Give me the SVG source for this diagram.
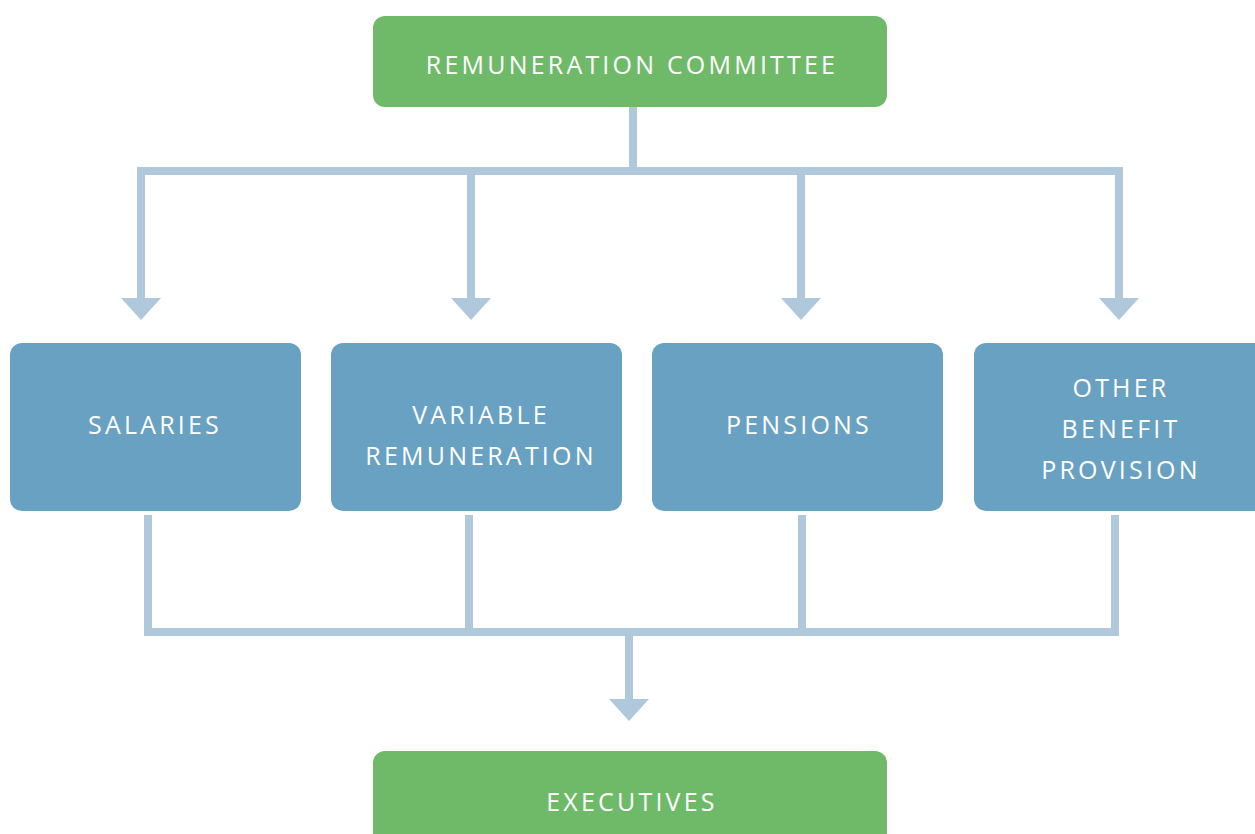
<svg xmlns="http://www.w3.org/2000/svg" width="1255" height="834" viewBox="0 0 1255 834">
<style>
.g{fill:#6fba69}
.b{fill:#68a1c1}
.t{font-family:"Open Sans","Liberation Sans",sans-serif;font-size:25px;font-weight:500;fill:#ffffff;text-anchor:middle;letter-spacing:3.2px}
.c{stroke:#afc8dc;stroke-width:8;fill:none}
.h{fill:#afc8dc}
</style>
<rect width="1255" height="834" fill="#ffffff"/>
<g id="connectors">
<path class="c" d="M633 107V171M141 171H1123M141 167V300M471 171V300M801 171V300M1119 167V300"/>
<polygon class="h" points="121,298 161,298 141,320"/>
<polygon class="h" points="451,298 491,298 471,320"/>
<polygon class="h" points="781,298 821,298 801,320"/>
<polygon class="h" points="1099,298 1139,298 1119,320"/>
<path class="c" d="M148 515V632M469 515V632M802 515V632M1115 515V632M144 632H1119M629 632V700"/>
<polygon class="h" points="609,699 649,699 629,721"/>
</g>
<g id="committee">
<rect class="g" x="373" y="16" width="514" height="91" rx="12"/>
<text class="t" x="632" y="74">REMUNERATION COMMITTEE</text>
</g>
<g id="salaries">
<rect class="b" x="10" y="343" width="291" height="168" rx="12"/>
<text class="t" x="155" y="434">SALARIES</text>
</g>
<g id="variable">
<rect class="b" x="331" y="343" width="291" height="168" rx="12"/>
<text class="t" x="481" y="424">VARIABLE</text>
<text class="t" x="481" y="465">REMUNERATION</text>
</g>
<g id="pensions">
<rect class="b" x="652" y="343" width="291" height="168" rx="12"/>
<text class="t" x="799" y="434">PENSIONS</text>
</g>
<g id="other">
<rect class="b" x="974" y="343" width="300" height="168" rx="12"/>
<text class="t" x="1121" y="397">OTHER</text>
<text class="t" x="1121" y="438">BENEFIT</text>
<text class="t" x="1121" y="479">PROVISION</text>
</g>
<g id="executives">
<rect class="g" x="373" y="751" width="514" height="100" rx="12"/>
<text class="t" x="632" y="811">EXECUTIVES</text>
</g>
</svg>
